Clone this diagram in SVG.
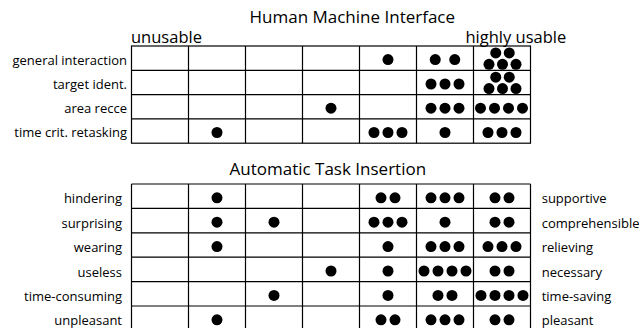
<svg xmlns="http://www.w3.org/2000/svg" width="639" height="328" viewBox="0 0 639 328">
<style>
.t{font-family:"Open Sans","Liberation Sans",sans-serif;fill:#000}
.title{font-size:17px}
.end{font-size:16.5px}
.lab{font-size:13px}
.r{text-anchor:end}
.g{stroke:#000;stroke-width:1.2;fill:none}
.d{fill:#000}
</style>
<rect width="639" height="328" fill="#fff"/>
<g id="hmi">
<text class="t title" x="249.5" y="23">Human Machine Interface</text>
<text class="t end" x="131" y="42.5">unusable</text>
<text class="t end" x="465.5" y="42.7">highly usable</text>
<g id="hmi-labels">
<text class="t lab r" x="127" y="64.5">general interaction</text>
<text class="t lab r" x="127" y="88.7">target ident.</text>
<text class="t lab r" x="127" y="113">area recce</text>
<text class="t lab r" x="127" y="137.2">time crit. retasking</text>
</g>
<g id="hmi-grid" class="g">
<rect x="131.5" y="46" width="399" height="97.2"/>
<path d="M188.5 46V143.2M245.5 46V143.2M302.5 46V143.2M359.5 46V143.2M416.5 46V143.2M473.5 46V143.2M131.5 70.3H530.5M131.5 94.6H530.5M131.5 118.9H530.5"/>
</g>
<g id="hmi-dots" class="d">
<circle cx="388" cy="59.6" r="5.5"/>
<circle cx="435.25" cy="59.6" r="5.5"/><circle cx="454.75" cy="59.6" r="5.5"/>
<circle cx="495.75" cy="52.9" r="5.5"/><circle cx="509.25" cy="52.9" r="5.5"/>
<circle cx="489" cy="64.3" r="5.5"/><circle cx="502.5" cy="64.3" r="5.5"/><circle cx="516" cy="64.3" r="5.5"/>
<circle cx="431" cy="84" r="5.5"/><circle cx="445" cy="84" r="5.5"/><circle cx="459" cy="84" r="5.5"/>
<circle cx="495.75" cy="77.2" r="5.5"/><circle cx="509.25" cy="77.2" r="5.5"/>
<circle cx="489" cy="88.6" r="5.5"/><circle cx="502.5" cy="88.6" r="5.5"/><circle cx="516" cy="88.6" r="5.5"/>
<circle cx="331" cy="108.2" r="5.5"/>
<circle cx="431" cy="108.2" r="5.5"/><circle cx="445" cy="108.2" r="5.5"/><circle cx="459" cy="108.2" r="5.5"/>
<circle cx="480.5" cy="108.2" r="5.5"/><circle cx="494.5" cy="108.2" r="5.5"/><circle cx="508.5" cy="108.2" r="5.5"/><circle cx="522.5" cy="108.2" r="5.5"/>
<circle cx="217" cy="132.5" r="5.5"/>
<circle cx="374" cy="132.5" r="5.5"/><circle cx="388" cy="132.5" r="5.5"/><circle cx="402" cy="132.5" r="5.5"/>
<circle cx="445" cy="132.5" r="5.5"/>
<circle cx="488" cy="132.5" r="5.5"/><circle cx="502" cy="132.5" r="5.5"/><circle cx="516" cy="132.5" r="5.5"/>
</g>
</g>
<g id="ati">
<text class="t title" x="229.5" y="175">Automatic Task Insertion</text>
<g id="ati-labels-left">
<text class="t lab r" x="122" y="203.3">hindering</text>
<text class="t lab r" x="122" y="227.7">surprising</text>
<text class="t lab r" x="122" y="252.1">wearing</text>
<text class="t lab r" x="122" y="276.5">useless</text>
<text class="t lab r" x="122" y="300.9">time-consuming</text>
<text class="t lab r" x="122" y="325.3">unpleasant</text>
</g>
<g id="ati-labels-right">
<text class="t lab" x="541.7" y="203.3">supportive</text>
<text class="t lab" x="541.7" y="227.7">comprehensible</text>
<text class="t lab" x="541.7" y="252.1">relieving</text>
<text class="t lab" x="541.7" y="276.5">necessary</text>
<text class="t lab" x="541.7" y="300.9">time-saving</text>
<text class="t lab" x="541.7" y="325.3">pleasant</text>
</g>
<g id="ati-grid" class="g">
<path d="M131.5 184H530.5M131.5 208.4H530.5M131.5 232.8H530.5M131.5 257.2H530.5M131.5 281.6H530.5M131.5 306H530.5"/>
<path d="M131.5 184V330M188.5 184V330M245.5 184V330M302.5 184V330M359.5 184V330M416.5 184V330M473.5 184V330M530.5 184V330"/>
</g>
<g id="ati-dots" class="d">
<circle cx="217" cy="197.8" r="5.5"/>
<circle cx="381" cy="197.8" r="5.5"/><circle cx="395" cy="197.8" r="5.5"/>
<circle cx="431" cy="197.8" r="5.5"/><circle cx="445" cy="197.8" r="5.5"/><circle cx="459" cy="197.8" r="5.5"/>
<circle cx="495" cy="197.8" r="5.5"/><circle cx="509" cy="197.8" r="5.5"/>
<circle cx="217" cy="222.2" r="5.5"/>
<circle cx="274" cy="222.2" r="5.5"/>
<circle cx="374" cy="222.2" r="5.5"/><circle cx="388" cy="222.2" r="5.5"/><circle cx="402" cy="222.2" r="5.5"/>
<circle cx="445" cy="222.2" r="5.5"/>
<circle cx="495" cy="222.2" r="5.5"/><circle cx="509" cy="222.2" r="5.5"/>
<circle cx="217" cy="246.6" r="5.5"/>
<circle cx="388" cy="246.6" r="5.5"/>
<circle cx="431" cy="246.6" r="5.5"/><circle cx="445" cy="246.6" r="5.5"/><circle cx="459" cy="246.6" r="5.5"/>
<circle cx="488" cy="246.6" r="5.5"/><circle cx="502" cy="246.6" r="5.5"/><circle cx="516" cy="246.6" r="5.5"/>
<circle cx="331" cy="271" r="5.5"/>
<circle cx="388" cy="271" r="5.5"/>
<circle cx="424" cy="271" r="5.5"/><circle cx="438" cy="271" r="5.5"/><circle cx="452" cy="271" r="5.5"/><circle cx="466" cy="271" r="5.5"/>
<circle cx="495" cy="271" r="5.5"/><circle cx="509" cy="271" r="5.5"/>
<circle cx="274" cy="295.4" r="5.5"/>
<circle cx="388" cy="295.4" r="5.5"/>
<circle cx="438" cy="295.4" r="5.5"/><circle cx="452" cy="295.4" r="5.5"/>
<circle cx="481" cy="295.4" r="5.5"/><circle cx="495" cy="295.4" r="5.5"/><circle cx="509" cy="295.4" r="5.5"/><circle cx="523" cy="295.4" r="5.5"/>
<circle cx="217" cy="319.8" r="5.5"/>
<circle cx="381" cy="319.8" r="5.5"/><circle cx="395" cy="319.8" r="5.5"/>
<circle cx="431" cy="319.8" r="5.5"/><circle cx="445" cy="319.8" r="5.5"/><circle cx="459" cy="319.8" r="5.5"/>
<circle cx="495" cy="319.8" r="5.5"/><circle cx="509" cy="319.8" r="5.5"/>
</g>
</g>
</svg>
